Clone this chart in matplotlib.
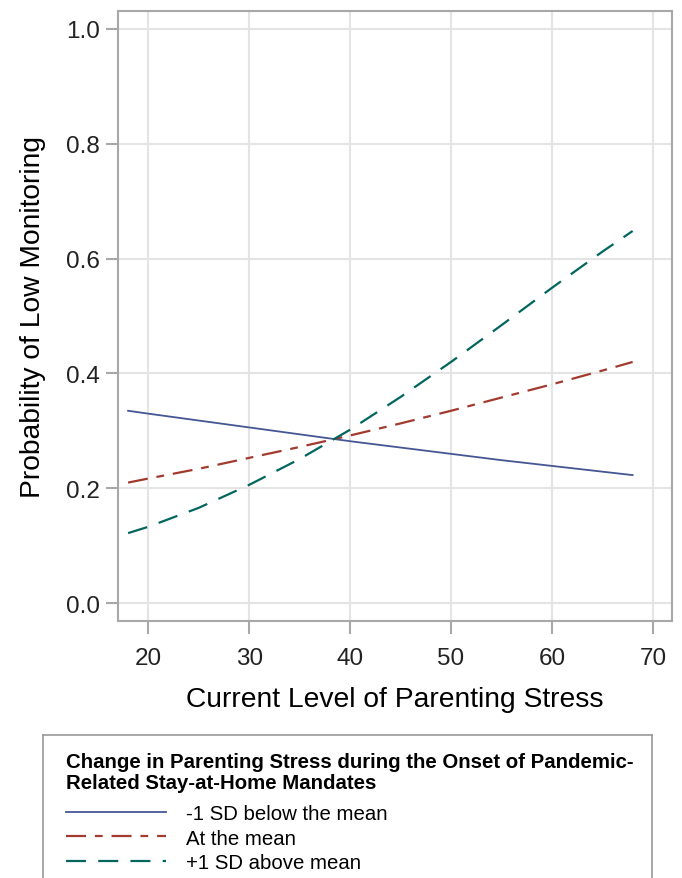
import matplotlib
matplotlib.use("Agg")
import matplotlib.pyplot as plt
from matplotlib.lines import Line2D

plt.rcParams["font.family"] = ["Liberation Sans", "DejaVu Sans"]

# predicted probabilities of low monitoring by current parenting stress
stress = [18, 20, 25, 30, 35, 40, 45, 50, 55, 60, 65, 68]
prob_low = [0.335, 0.330, 0.318, 0.306, 0.294, 0.282, 0.271, 0.260, 0.249, 0.239, 0.229, 0.223]
prob_mean = [0.210, 0.217, 0.234, 0.253, 0.272, 0.292, 0.313, 0.335, 0.358, 0.381, 0.405, 0.420]
prob_high = [0.122, 0.133, 0.166, 0.206, 0.251, 0.302, 0.359, 0.420, 0.484, 0.549, 0.612, 0.648]

labels = ["-1 SD below the mean", "At the mean", "+1 SD above mean"]
colors = ["#445694", "#A23A2E", "#01665E"]
styles = ["-", (0, (9, 4, 3.5, 4)), (0, (9, 5.5))]
widths = [1.3, 1.6, 1.6]
legend_title = ("Change in Parenting Stress during the Onset of Pandemic-\n"
                "Related Stay-at-Home Mandates")

fig = plt.figure(figsize=(6.82, 8.79), dpi=100)
ax = fig.add_axes([118 / 682, 1 - 622 / 879, (672 - 118) / 682, (622 - 12) / 879])

for y, c, ls, lw in zip([prob_low, prob_mean, prob_high], colors, styles, widths):
    ax.plot(stress, y, color=c, lw=lw, linestyle=ls)

ax.set_xlim(17.0, 71.9)
ax.set_ylim(-0.031, 1.031)
ax.set_xticks([20, 30, 40, 50, 60, 70])
ax.set_yticks([0.0, 0.2, 0.4, 0.6, 0.8, 1.0])
ax.set_yticklabels(["0.0", "0.2", "0.4", "0.6", "0.8", "1.0"])
ax.grid(True, color="#E4E4E4", lw=1.5)
ax.set_axisbelow(True)
for sp in ax.spines.values():
    sp.set_color("#A8A8A8")
    sp.set_linewidth(1.5)
ax.tick_params(axis="both", length=9, width=1.5, color="#A8A8A8",
               labelsize=17.5, labelcolor="#222222")
ax.tick_params(axis="x", pad=10)
ax.tick_params(axis="y", pad=4)
ax.set_xlabel("Current Level of Parenting Stress", fontsize=20.3, labelpad=12)
ax.set_ylabel("Probability of Low Monitoring", fontsize=20.3, labelpad=14)

# legend panel below the plot
lax = fig.add_axes([43 / 682, -0.01, (652 - 43) / 682, (879 - 736) / 879 + 0.01])
lax.set_xticks([])
lax.set_yticks([])
for sp in lax.spines.values():
    sp.set_color("#9A9A9A")
    sp.set_linewidth(1.2)
fig.text(66 / 682, 1 - 753 / 879, legend_title, ha="left", va="top",
         fontsize=14.7, fontweight="bold", linespacing=1.15)
handles = [Line2D([], [], color=c, lw=lw, linestyle=ls)
           for c, ls, lw in zip(colors, styles, widths)]
leg = fig.legend(handles, labels, loc="upper left", frameon=False,
                 bbox_to_anchor=(66 / 682, 1 - 805 / 879),
                 bbox_transform=fig.transFigure, fontsize=14.7,
                 handlelength=4.9, handletextpad=1.0, labelspacing=0.27,
                 borderpad=0, borderaxespad=0)

fig.savefig("out.png", dpi=100)
